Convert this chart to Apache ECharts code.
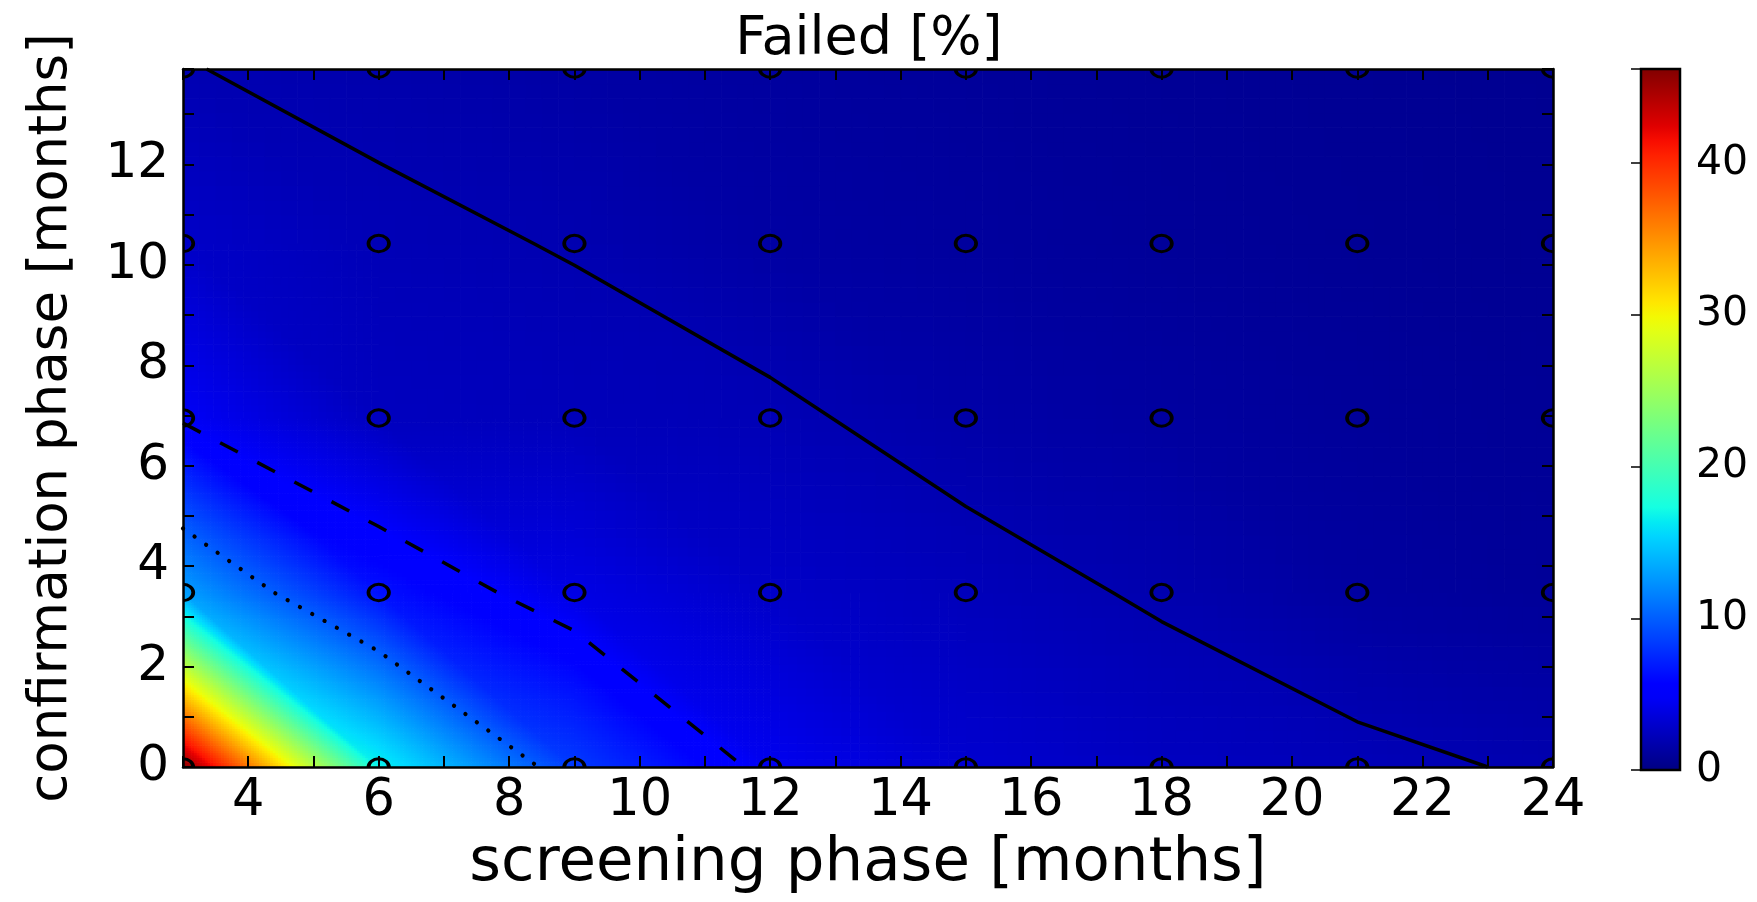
<!DOCTYPE html>
<html>
<head>
<meta charset="utf-8">
<script src="https://cdn.jsdelivr.net/npm/echarts@6/dist/echarts.min.js"></script>
<style>
html,body{margin:0;padding:0;background:#ffffff;overflow:hidden;}
#chart{width:1757px;height:902px;}
</style>
</head>
<body>
<div id="chart"></div>
<script>
// ---------------- DATA ----------------
// sample grid (the circles): screening phase x confirmation phase, in months
const xNodes = [3, 6, 9, 12, 15, 18, 21, 24];
const yNodes = [0, 3.475, 6.95, 10.425, 13.9];
// Failed [%] at each sample point, one row per confirmation value
const failedAtY0  = [46.2, 16.9, 8.45, 4.47, 3.2, 2.6, 2.25, 1.875];
const failedAtY1  = [13.04, 6.5, 4.03, 2.9, 2.36, 1.88, 1.285, 1.0];
const failedAtY2  = [4.76, 2.53, 2.35, 2.17, 1.63, 1.3, 1.05, 0.9];
const failedAtY3  = [2.9, 2.19, 1.95, 1.44, 1.2, 1.0, 0.85, 0.75];
const failedAtY4  = [2.03, 1.78, 1.5, 1.25, 1.05, 0.9, 0.8, 0.7];
// contour levels drawn as solid / dashed / dotted lines
const contourLevels = [2, 5, 10];
// tick labels
const xTickLabels = [4, 6, 8, 10, 12, 14, 16, 18, 20, 22, 24];
const yTickLabels = [0, 2, 4, 6, 8, 10, 12];
const colorbarTickLabels = [0, 10, 20, 30, 40];

const F = [failedAtY0, failedAtY1, failedAtY2, failedAtY3, failedAtY4];
const VMAX = Math.max.apply(null, F.map(r => Math.max.apply(null, r)));
const VMIN = 0;

// ---------------- styles ----------------
const FONT = 'DejaVu Sans';
const contourStyles = [
  {type: 'solid', width: 3.5, cap: 'butt'},
  {type: [20, 22], width: 3.5, cap: 'butt'},
  {type: [0.1, 14], width: 4.2, cap: 'round'}
];

// matplotlib "jet" colormap definition
const JET = {
  r: [[0, 0], [0.35, 0], [0.66, 1], [0.89, 1], [1, 0.5]],
  g: [[0, 0], [0.125, 0], [0.375, 1], [0.64, 1], [0.91, 0], [1, 0]],
  b: [[0, 0.5], [0.11, 1], [0.34, 1], [0.65, 0], [1, 0]]
};
function seg(pts, t) {
  for (let k = 0; k < pts.length - 1; k++) {
    if (t <= pts[k + 1][0]) {
      const a = pts[k], b = pts[k + 1];
      const f = (t - a[0]) / (b[0] - a[0]);
      return a[1] + f * (b[1] - a[1]);
    }
  }
  return pts[pts.length - 1][1];
}
function jet(t) {
  t = Math.max(0, Math.min(1, t));
  return 'rgb(' + Math.round(255 * seg(JET.r, t)) + ',' + Math.round(255 * seg(JET.g, t)) + ',' + Math.round(255 * seg(JET.b, t)) + ')';
}
function colorOf(v) { return jet((v - VMIN) / (VMAX - VMIN)); }

// ---------------- derived series data ----------------
const cells = [];
for (let j = 0; j < yNodes.length - 1; j++)
  for (let i = 0; i < xNodes.length - 1; i++)
    cells.push([xNodes[i], yNodes[j], i, j]);

const nodes = [];
for (let j = 0; j < yNodes.length; j++)
  for (let i = 0; i < xNodes.length; i++)
    nodes.push([xNodes[i], yNodes[j], F[j][i]]);

// marching squares on the sample grid
function contourLines(level) {
  const segs = [];
  for (let j = 0; j < yNodes.length - 1; j++) {
    for (let i = 0; i < xNodes.length - 1; i++) {
      const c = [
        [xNodes[i], yNodes[j], F[j][i]],
        [xNodes[i + 1], yNodes[j], F[j][i + 1]],
        [xNodes[i + 1], yNodes[j + 1], F[j + 1][i + 1]],
        [xNodes[i], yNodes[j + 1], F[j + 1][i]]
      ];
      const pts = [];
      for (let e = 0; e < 4; e++) {
        const a = c[e], b = c[(e + 1) % 4];
        if ((a[2] - level) * (b[2] - level) < 0) {
          const t = (level - a[2]) / (b[2] - a[2]);
          pts.push([a[0] + t * (b[0] - a[0]), a[1] + t * (b[1] - a[1])]);
        }
      }
      if (pts.length === 2) segs.push(pts);
      else if (pts.length === 4) { segs.push([pts[0], pts[1]]); segs.push([pts[2], pts[3]]); }
    }
  }
  const key = p => p[0].toFixed(5) + ',' + p[1].toFixed(5);
  const adj = {};
  segs.forEach((s, k) => s.forEach(p => { (adj[key(p)] = adj[key(p)] || []).push(k); }));
  const used = segs.map(() => false);
  function extend(line) {
    for (;;) {
      const last = line[line.length - 1];
      const cand = (adj[key(last)] || []).find(k => !used[k]);
      if (cand === undefined) break;
      used[cand] = true;
      const s = segs[cand];
      line.push(key(s[0]) === key(last) ? s[1] : s[0]);
    }
  }
  const lines = [];
  segs.forEach((s, k) => {
    if (used[k]) return;
    used[k] = true;
    const line = [s[0], s[1]];
    extend(line);
    line.reverse();
    extend(line);
    lines.push(line);
  });
  return lines;
}

// ---------------- render helpers ----------------
// each grid cell is shaded as two linear triangles split along its top-left / bottom-right diagonal
function renderCell(params, api) {
  const i = api.value(2), j = api.value(3);
  const v00 = F[j][i], v10 = F[j][i + 1], v01 = F[j + 1][i], v11 = F[j + 1][i + 1];
  const pA = api.coord([xNodes[i], yNodes[j]]);
  const pB = api.coord([xNodes[i + 1], yNodes[j + 1]]);
  const left = pA[0], bottom = pA[1], W = pB[0] - pA[0], H = pA[1] - pB[1];
  const range = Math.max(v00, v10, v01, v11) - Math.min(v00, v10, v01, v11);
  const n = Math.min(72, Math.max(12, Math.ceil(range * 10)));
  const children = [];
  const dw = W / n, dh = H / n;
  for (let a = 0; a < n; a++) {
    const u = (a + 0.5) / n;
    for (let b = 0; b < n; b++) {
      const w = (b + 0.5) / n;
      let v;
      if (u + w <= 1) v = v00 + u * (v10 - v00) + w * (v01 - v00);
      else v = v11 + (1 - u) * (v01 - v11) + (1 - w) * (v10 - v11);
      children.push({
        type: 'rect',
        shape: {x: left + a * dw, y: bottom - (b + 1) * dh, width: dw + 0.7, height: dh + 0.7},
        style: {fill: colorOf(v)}
      });
    }
  }
  return {type: 'group', children: children};
}

function renderNode(params, api) {
  const p = api.coord([api.value(0), api.value(1)]);
  return {
    type: 'circle',
    x: p[0], y: p[1], scaleX: 1.25,
    shape: {cx: 0, cy: 0, r: 8.2},
    style: {fill: 'none', stroke: '#000', lineWidth: 3}
  };
}

function renderColorbar(params, api) {
  const p0 = api.coord([0, VMIN]);
  const p1 = api.coord([1, VMAX]);
  const stops = [];
  for (let k = 0; k <= 48; k++) stops.push({offset: k / 48, color: jet(k / 48)});
  return {
    type: 'rect',
    shape: {x: p0[0], y: p1[1], width: p1[0] - p0[0], height: p0[1] - p1[1]},
    style: {fill: new echarts.graphic.LinearGradient(0, 1, 0, 0, stops), stroke: '#000', lineWidth: 2.5}
  };
}

// ---------------- option ----------------
const axisLineStyle = {color: '#000', width: 2.5};
const tickStyle = {color: '#000', width: 2};
const evenOnly = list => (v => list.indexOf(Math.round(v * 1000) / 1000) >= 0 ? String(v) : '');

const series = [
  {
    type: 'custom', name: 'fill', xAxisIndex: 0, yAxisIndex: 0,
    data: cells, renderItem: renderCell, clip: true, silent: true, z: 1, animation: false
  }
];
contourLevels.forEach((lvl, k) => {
  contourLines(lvl).forEach(line => {
    series.push({
      type: 'line', name: 'contour ' + lvl, xAxisIndex: 0, yAxisIndex: 0,
      data: line, symbol: 'none', showSymbol: false, smooth: false, silent: true,
      z: 3, animation: false, clip: true,
      lineStyle: {color: '#000', width: contourStyles[k].width, type: contourStyles[k].type, cap: contourStyles[k].cap}
    });
  });
});
series.push({
  type: 'custom', name: 'samples', xAxisIndex: 0, yAxisIndex: 0,
  data: nodes, renderItem: renderNode, clip: true, silent: true, z: 4, animation: false
});
series.push({
  type: 'custom', name: 'colorbar', xAxisIndex: 2, yAxisIndex: 2,
  data: [[0, VMIN, 1, VMAX]], renderItem: renderColorbar, silent: true, z: 1, animation: false
});

const option = {
  backgroundColor: '#ffffff',
  animation: false,
  textStyle: {fontFamily: FONT, color: '#000'},
  grid: [
    {left: 183, top: 69, width: 1370, height: 698, containLabel: false, outerBoundsMode: 'none'},
    {left: 1641, top: 69, width: 39, height: 701, containLabel: false, outerBoundsMode: 'none'}
  ],
  xAxis: [
    {
      type: 'value', gridIndex: 0, position: 'bottom', min: 3, max: 24, interval: 1, z: 10,
      axisLine: {show: true, onZero: false, lineStyle: axisLineStyle},
      axisTick: {show: true, inside: true, length: 11, lineStyle: tickStyle},
      axisLabel: {show: true, formatter: evenOnly(xTickLabels), fontSize: 51, fontFamily: FONT, color: '#000', margin: 9},
      splitLine: {show: false},
      name: 'screening phase [months]', nameLocation: 'middle', nameGap: 67,
      nameTextStyle: {fontSize: 61, fontFamily: FONT, color: '#000'}
    },
    {
      type: 'value', gridIndex: 0, position: 'top', min: 3, max: 24, interval: 1, z: 10,
      axisLine: {show: true, onZero: false, lineStyle: axisLineStyle},
      axisTick: {show: true, inside: true, length: 11, lineStyle: tickStyle},
      axisLabel: {show: false}, splitLine: {show: false}
    },
    {
      type: 'value', gridIndex: 1, min: 0, max: 1, show: false
    }
  ],
  yAxis: [
    {
      type: 'value', gridIndex: 0, position: 'left', min: 0, max: 13.9, interval: 1, z: 10,
      axisLine: {show: true, onZero: false, lineStyle: axisLineStyle},
      axisTick: {show: true, inside: true, length: 11, lineStyle: tickStyle},
      axisLabel: {show: true, formatter: evenOnly(yTickLabels), fontSize: 50, fontFamily: FONT, color: '#000', margin: 14},
      splitLine: {show: false},
      name: 'confirmation phase [months]', nameLocation: 'middle', nameGap: 104, nameRotate: 90,
      nameTextStyle: {fontSize: 53, fontFamily: FONT, color: '#000'}
    },
    {
      type: 'value', gridIndex: 0, position: 'right', min: 0, max: 13.9, interval: 1, z: 10,
      axisLine: {show: true, onZero: false, lineStyle: axisLineStyle},
      axisTick: {show: true, inside: true, length: 11, lineStyle: tickStyle},
      axisLabel: {show: false}, splitLine: {show: false}
    },
    {
      type: 'value', gridIndex: 1, position: 'right', min: VMIN, max: VMAX, interval: 10, z: 10,
      axisLine: {show: false},
      axisTick: {show: true, inside: true, length: 10, lineStyle: {color: '#000', width: 1.5}},
      axisLabel: {show: true, formatter: evenOnly(colorbarTickLabels), fontSize: 41, fontFamily: FONT, color: '#000', margin: 16},
      splitLine: {show: false}
    }
  ],
  graphic: [
    {
      type: 'text', x: 869, y: 40, z: 20,
      style: {text: 'Failed [%]', font: '54px "DejaVu Sans"', fill: '#000', textAlign: 'center', textVerticalAlign: 'middle'}
    }
  ],
  series: series
};

const chart = echarts.init(document.getElementById('chart'), null, {renderer: 'canvas'});
chart.setOption(option);
</script>
</body>
</html>
